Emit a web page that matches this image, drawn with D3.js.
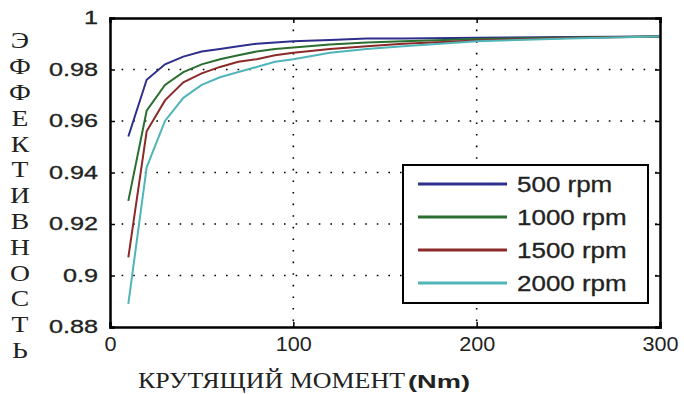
<!DOCTYPE html>
<html><head><meta charset="utf-8">
<script src="https://cdn.jsdelivr.net/npm/d3@7"></script>
<style>body{margin:0;background:#fff}svg{display:block}</style>
</head><body>
<script>
const torque = [10,20,30,40,50,60,70,80,90,100,120,140,160,200,250,300];
const eff500  = [0.954,0.976,0.982,0.985,0.987,0.988,0.989,0.990,0.9905,0.991,0.9915,0.992,0.992,0.9923,0.9926,0.9928];
const eff1000 = [0.929,0.964,0.974,0.979,0.982,0.984,0.9855,0.987,0.988,0.9885,0.9897,0.9905,0.991,0.9918,0.9924,0.9928];
const eff1500 = [0.907,0.956,0.968,0.975,0.9785,0.981,0.983,0.984,0.9855,0.9865,0.988,0.989,0.990,0.9913,0.9922,0.9928];
const eff2000 = [0.889,0.942,0.960,0.969,0.974,0.977,0.979,0.981,0.983,0.984,0.9865,0.988,0.989,0.991,0.992,0.9928];
const seriesNames = ["500 rpm","1000 rpm","1500 rpm","2000 rpm"];
const seriesColors = ["#2c2f8c","#2a6e30","#8c2a2a","#4fb5b8"];
const xTicks = [0,100,200,300];
const yTicks = [0.88,0.9,0.92,0.94,0.96,0.98,1];
const yTickLabels = ["0.88","0.9","0.92","0.94","0.96","0.98","1"];
const yTitle = "ЭФФЕКТИВНОСТЬ";
const xTitleA = "КРУТЯЩИЙ МОМЕНТ";
const xTitleB = "(Nm)";

const W=684,H=394;
const L=110,R=660,T=18,B=327;
const svg=d3.select("body").append("svg").attr("width",W).attr("height",H);
const x=d3.scaleLinear().domain([0,300]).range([L,R]);
const y=d3.scaleLinear().domain([0.88,1]).range([B,T]);

function stretch(sel,f){sel.each(function(){const w=this.getComputedTextLength();d3.select(this).attr("textLength",w*f).attr("lengthAdjust","spacingAndGlyphs");});}

// grid
const g=svg.append("g");
g.selectAll(".gx").data(xTicks.filter(d=>d>0&&d<300)).join("line")
 .attr("x1",d=>x(d)).attr("x2",d=>x(d)).attr("y1",T).attr("y2",B)
 .attr("stroke","#000").attr("stroke-width",1.6).attr("stroke-dasharray","1.6,10");
g.selectAll(".gy").data(yTicks.filter(d=>d>0.881&&d<0.999)).join("line")
 .attr("x1",L).attr("x2",R).attr("y1",d=>y(d)).attr("y2",d=>y(d))
 .attr("stroke","#000").attr("stroke-width",1.6).attr("stroke-dasharray","1.6,10");

// lines
const series=[eff500,eff1000,eff1500,eff2000];
const line=d3.line().x((d,i)=>x(torque[i])).y(d=>y(d));
series.forEach((s,k)=>{
 svg.append("path").datum(s).attr("d",line).attr("fill","none")
  .attr("stroke",seriesColors[k]).attr("stroke-width",2);
});

// axes with inward ticks
const axB=d3.axisBottom(x).tickValues(xTicks).tickSize(-5).tickPadding(10).tickFormat(d3.format("d"));
const axT=d3.axisTop(x).tickValues(xTicks).tickSize(-5).tickFormat("");
const axL=d3.axisLeft(y).tickValues(yTicks).tickSize(-5).tickPadding(12).tickFormat((d,i)=>yTickLabels[i]);
const axR=d3.axisRight(y).tickValues(yTicks).tickSize(-5).tickFormat("");
const gb=svg.append("g").attr("transform",`translate(0,${B})`).call(axB);
svg.append("g").attr("transform",`translate(0,${T})`).call(axT);
const gl=svg.append("g").attr("transform",`translate(${L},0)`).call(axL);
svg.append("g").attr("transform",`translate(${R},0)`).call(axR);
svg.selectAll(".domain").attr("stroke","#000").attr("stroke-width",2.5);
svg.selectAll(".tick line").attr("stroke","#000").attr("stroke-width",1.5);
gb.selectAll("text").attr("font-family","Liberation Sans, Arial, sans-serif").attr("font-size",20).attr("fill","#222");
gl.selectAll("text").attr("font-family","Liberation Sans, Arial, sans-serif").attr("font-size",18).attr("fill","#222")
  .attr("stroke","#222").attr("stroke-width",0.3);
stretch(gb.selectAll("text"),1.08);
stretch(gl.selectAll("text"),1.4);

// legend
const lg=svg.append("g");
lg.append("rect").attr("x",403).attr("y",165).attr("width",245).attr("height",138)
 .attr("fill","#fff").attr("stroke","#000").attr("stroke-width",2);
const rows=[184,217,250,283];
seriesNames.forEach((n,k)=>{
 lg.append("line").attr("x1",418).attr("x2",507).attr("y1",rows[k]).attr("y2",rows[k])
  .attr("stroke",seriesColors[k]).attr("stroke-width",3);
 const t=lg.append("text").attr("x",517).attr("y",rows[k]).attr("dy","0.36em")
  .attr("font-family","Liberation Sans, Arial, sans-serif").attr("font-size",22).attr("fill","#222")
  .attr("stroke","#222").attr("stroke-width",0.3).text(n);
 stretch(t,1.18);
});

// y title (vertical letters)
Array.from(yTitle).forEach((c,i)=>{
 const t=svg.append("text").attr("x",20).attr("y",40+i*25.8).attr("dy","0.35em").attr("text-anchor","middle")
  .attr("font-family","Liberation Serif, Times New Roman, serif").attr("font-size",24).attr("fill","#222").text(c);
 stretch(t,1.15);
});

// x title
svg.append("text").attr("x",138).attr("y",388)
 .attr("font-family","Liberation Serif, Times New Roman, serif").attr("font-size",23).attr("fill","#222")
 .attr("textLength",267).attr("lengthAdjust","spacingAndGlyphs").text(xTitleA);
svg.append("text").attr("x",408).attr("y",388)
 .attr("font-family","Liberation Sans, Arial, sans-serif").attr("font-weight","bold").attr("font-size",19).attr("fill","#222")
 .attr("textLength",62).attr("lengthAdjust","spacingAndGlyphs").text(xTitleB);
</script>
</body></html>
